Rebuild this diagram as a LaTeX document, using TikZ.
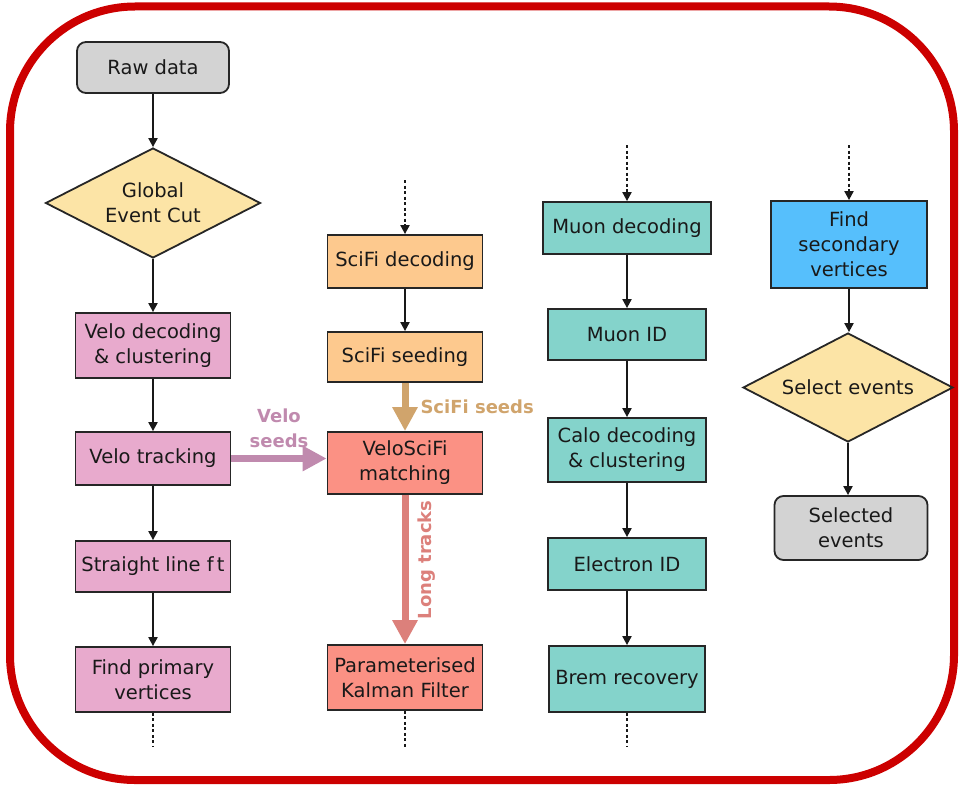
\documentclass[tikz,border=0pt]{standalone}
\usepackage{fontspec}
\setmainfont{DejaVu Sans}
\usetikzlibrary{shapes.geometric,arrows.meta}
\definecolor{frameRed}{HTML}{CC0000}
\definecolor{boxGray}{HTML}{D3D3D3}
\definecolor{boxYellow}{HTML}{FCE4A6}
\definecolor{boxPink}{HTML}{E8AACD}
\definecolor{boxOrange}{HTML}{FDC98E}
\definecolor{boxSalmon}{HTML}{FB9184}
\definecolor{boxTeal}{HTML}{84D3CB}
\definecolor{boxBlue}{HTML}{56BFFC}
\definecolor{arrVelo}{HTML}{C08AAE}
\definecolor{arrSciFi}{HTML}{D0A46C}
\definecolor{arrLong}{HTML}{DC807B}
\tikzset{
  every node/.style={font=\fontsize{19.5}{25}\selectfont, text=black!90},
  box/.style={draw=black!85, line width=1.8pt, inner sep=0pt, align=center, minimum width=155pt},
  roundbox/.style={box, rounded corners=9pt, fill=boxGray},
  decision/.style={diamond, aspect=2, draw=black!85, line width=1.8pt, inner sep=0pt, align=center, fill=boxYellow},
  flow/.style={draw=black!90, line width=2pt, -{Triangle[length=9pt,width=9pt]}},
  dotflow/.style={draw=black!90, line width=2pt, dash pattern=on 3pt off 2.5pt, -{Triangle[length=9pt,width=9pt]}},
  dotend/.style={draw=black!90, line width=2pt, dash pattern=on 3pt off 2.5pt},
  fatflow/.style={line width=7pt, -{Triangle[length=24pt,width=24pt]}},
  fatlabel/.style={font=\fontsize{18}{25}\selectfont\bfseries, align=center}
}
\begin{document}
\begin{tikzpicture}[x=1pt,y=-1pt]
\useasboundingbox (0,0) rectangle (960,784);
\draw[frameRed, line width=8pt, rounded corners=125pt] (10,6.5) rectangle (954,780);

% column 1
\node[roundbox, minimum width=152pt, minimum height=51pt] (raw) at (153,67.5) {Raw data};
\node[decision, minimum width=215pt, minimum height=110pt] (gec) at (153,203) {Global\\Event Cut};
\node[box, fill=boxPink, minimum height=65pt] (velodec) at (153,345.5) {Velo decoding\\\& clustering};
\node[box, fill=boxPink, minimum height=53pt] (velotr) at (153,458.5) {Velo tracking};
\node[box, fill=boxPink, minimum height=51pt] (slf) at (153,566.5) {Straight line f\,t};
\node[box, fill=boxPink, minimum height=65pt] (pv) at (153,679.5) {Find primary\\vertices};
\coordinate (pvend) at (153,747);

% column 2
\coordinate (scifistart) at (405,180);
\node[box, fill=boxOrange, minimum height=53pt] (scifidec) at (405,261.5) {SciFi decoding};
\node[box, fill=boxOrange, minimum height=50pt] (scifiseed) at (405,357) {SciFi seeding};
\node[box, fill=boxSalmon, minimum height=62pt] (match) at (405,463) {VeloSciFi\\matching};
\node[box, fill=boxSalmon, minimum height=65pt] (kalman) at (405,677.5) {Parameterised\\Kalman Filter};
\coordinate (kalmanend) at (405,747);

% column 3
\coordinate (muonstart) at (627,145);
\node[box, fill=boxTeal, minimum width=168pt, minimum height=52pt] (muondec) at (627,228) {Muon decoding};
\node[box, fill=boxTeal, minimum width=158pt, minimum height=51pt] (muonid) at (627,334.5) {Muon ID};
\node[box, fill=boxTeal, minimum width=158pt, minimum height=64pt] (calo) at (627,450) {Calo decoding\\\& clustering};
\node[box, fill=boxTeal, minimum width=158pt, minimum height=52pt] (eid) at (627,564) {Electron ID};
\node[box, fill=boxTeal, minimum width=156pt, minimum height=66pt] (brem) at (627,679) {Brem recovery};
\coordinate (bremend) at (627,747);

% column 4
\coordinate (svstart) at (849,145);
\node[box, fill=boxBlue, minimum width=156pt, minimum height=87pt] (sv) at (849,244.5) {Find\\secondary\\vertices};
\node[decision, minimum width=210pt, minimum height=109pt] (sel) at (848,387.5) {Select events};
\node[roundbox, minimum width=153pt, minimum height=64pt] (selected) at (851,528) {Selected\\events};

% thin connectors
\draw[flow] (raw) -- (gec);
\draw[flow] (gec) -- (velodec);
\draw[flow] (velodec) -- (velotr);
\draw[flow] (velotr) -- (slf);
\draw[flow] (slf) -- (pv);
\draw[dotend] (pv) -- (pvend);

\draw[dotflow] (scifistart) -- (scifidec);
\draw[flow] (scifidec) -- (scifiseed);
\draw[dotend] (kalman) -- (kalmanend);

\draw[dotflow] (muonstart) -- (muondec);
\draw[flow] (muondec) -- (muonid);
\draw[flow] (muonid) -- (calo);
\draw[flow] (calo) -- (eid);
\draw[flow] (eid) -- (brem);
\draw[dotend] (brem) -- (bremend);

\draw[dotflow] (svstart) -- (sv);
\draw[flow] (sv.south) -- (sv.south |- sel.north);
\draw[flow] (sel.south) -- (sel.south |- selected.north);

% fat connectors
\draw[fatflow, arrVelo] (velotr.east) -- (velotr.east -| match.west);
\node[fatlabel, text=arrVelo] (velolab) at (279,428) {Velo\\seeds};
\draw[fatflow, arrSciFi] (scifiseed.south) -- (match.north);
\node[fatlabel, text=arrSciFi, anchor=west] (scifilab) at (417,407) {SciFi seeds};
\draw[fatflow, arrLong] (match.south) -- (kalman.north);
\node[fatlabel, text=arrLong, rotate=90] (longlab) at (427,560) {Long tracks};
\end{tikzpicture}
\end{document}
